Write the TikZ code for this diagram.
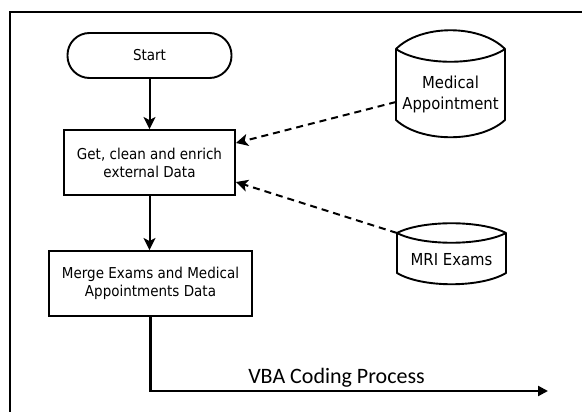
\documentclass[tikz,border=0pt]{standalone}
\usepackage{fontspec}
\setmainfont{DejaVu Sans}[FakeStretch=0.9]
\newfontfamily\calibrifont{Carlito}
\usetikzlibrary{arrows.meta}

\tikzset{
  boxtext/.style={font=\fontsize{15}{18}\selectfont, align=center},
  drumtext/.style={font=\fontsize{16.5}{20.5}\selectfont, align=center},
  process/.style={boxtext, draw, line width=1.9pt, minimum height=65pt, inner sep=0pt},
  terminal/.style={boxtext, draw, line width=1.9pt, rounded corners=22pt, minimum width=164pt, minimum height=45pt},
  flow/.style={line width=2pt, -{Stealth[length=12pt,width=12pt,inset=3pt]}},
  feed/.style={flow, dash pattern=on 7pt off 5pt},
  drum/.style={line width=1.9pt, line join=round}
}

\begin{document}
\begin{tikzpicture}[x=1pt,y=-1pt]
        \useasboundingbox (0,0) rectangle (582,412);

        % Frame (only top and left edges show)
        \draw[line width=1.6pt] (582,12) -- (10,12) -- (10,412);

        % Flow boxes
        \node[terminal] (start) at (149.5,55.5) {Start};
        \node[process, minimum width=171pt] (clean) at (149.5,162.5) {Get, clean and enrich\\external Data};
        \node[process, minimum width=203pt] (merge) at (150.5,283.5) {Merge Exams and Medical\\Appointments Data};

        % Data stores
        \draw[drum] (396,49) .. controls (421,24) and (480,24) .. (505,49)
                    .. controls (480,66) and (421,66) .. (396,49)
                    -- (396,120) .. controls (421,143) and (480,143) .. (505,120) -- (505,49);
        \node[drumtext] (appt) at (450.5,94.5) {Medical\\Appointment};
        \coordinate (apptOut) at (396,102);

        \draw[drum] (397,233) .. controls (422,220) and (481,220) .. (506,233)
                    .. controls (481,246) and (422,246) .. (397,233)
                    -- (397,273) .. controls (422,288) and (481,288) .. (506,273) -- (506,233);
        \node[drumtext] (mri) at (451.5,259.5) {MRI Exams};
        \coordinate (mriOut) at (397,233);

        % Connectors
        \draw[flow] (start) -- (clean);
        \draw[flow] (clean) -- (clean.south |- merge.north);
        \draw[feed] (apptOut) -- ([yshift=19.5pt]clean.east);
        \draw[feed] (mriOut) -- ([yshift=-19.5pt]clean.east);

        % Output
        \coordinate (vbaEnd) at (548,391);
        \draw[line width=2.2pt, -{Triangle[length=10pt,width=10pt]}] (merge.south) |- node[pos=0.734, anchor=base, yshift=8pt, font=\calibrifont\fontsize{22}{26}\selectfont] (vba) {VBA Coding Process} (vbaEnd);

    \end{tikzpicture}
\end{document}
